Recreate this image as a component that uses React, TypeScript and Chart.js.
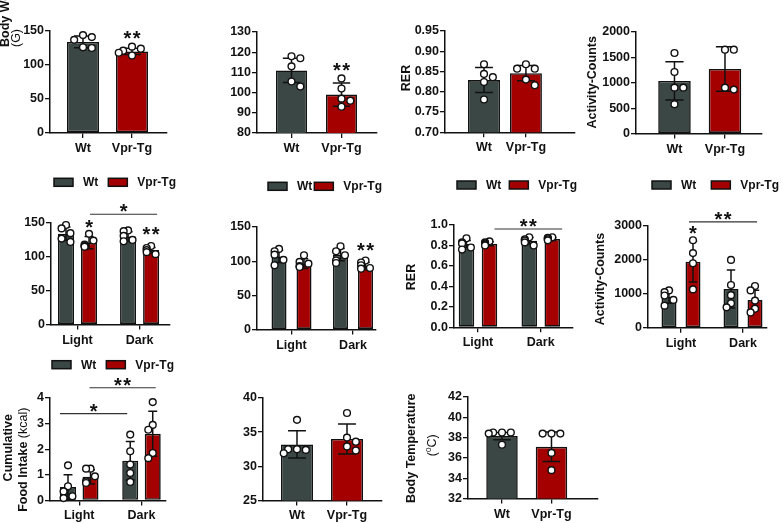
import React, { useEffect, useRef } from "react";
import { Chart, registerables } from "chart.js";

Chart.register(...registerables);

const WT_COLOR = "#3b4745";
const VPR_COLOR = "#a50000";
const INK = "#111111";
const FONT = "'Liberation Sans', Arial, Helvetica, sans-serif";

// ---------- labels ----------
const groupLabels = ["Wt", "Vpr-Tg"];
const phaseLabels = ["Light", "Dark"];
const legendNames = ["Wt", "Vpr-Tg"];

// ---------- A: body weight ----------
const weightMean = [134, 120];
const weightSd = [8.5, 4.5];
const weightPoints = [[144, 141, 137, 126, 125], [127, 124, 121, 118, 114]];

// ---------- B ----------
const bMean = [111, 99];
const bSd = [6, 5.8];
const bPoints = [[118, 117, 113, 105.5, 103], [107, 102, 97, 96, 93]];

// ---------- C: RER ----------
const rerMean = [0.829, 0.846];
const rerSd = [0.031, 0.019];
const rerPoints = [[0.868, 0.844, 0.836, 0.824, 0.781], [0.868, 0.857, 0.857, 0.83, 0.816]];

// ---------- D: activity ----------
const actMean = [1036, 1272];
const actSd = [377, 440];
const actPoints = [[1587, 1213, 905, 905, 577], [1652, 1652, 905, 866]];

// ---------- E: light/dark ----------
const eWtMean = [134, 130];
const eWtSd = [10, 7];
const eWtPoints = [[147, 142, 135, 127, 122], [139, 138, 131, 125, 123]];
const eVprMean = [121, 110];
const eVprSd = [9, 4];
const eVprPoints = [[134, 124, 118, 116, 115], [116, 113, 110, 107, 104]];

// ---------- F: light/dark ----------
const fWtMean = [107, 109.5];
const fWtSd = [9, 9];
const fWtPoints = [[118, 114.5, 109.6, 102, 94], [121.8, 114.5, 108.6, 101, 97.4]];
const fVprMean = [96.5, 93];
const fVprSd = [7, 5];
const fVprPoints = [[108.6, 99, 96.4, 93, 91.6], [101, 98, 94, 90, 89]];

// ---------- G: RER light/dark ----------
const gWtMean = [0.814, 0.847];
const gWtSd = [0.035, 0.03];
const gWtPoints = [[0.87, 0.83, 0.82, 0.78, 0.76], [0.88, 0.86, 0.85, 0.83, 0.8]];
const gVprMean = [0.816, 0.863];
const gVprSd = [0.02, 0.015];
const gVprPoints = [[0.84, 0.83, 0.82, 0.81, 0.8], [0.88, 0.875, 0.87, 0.86, 0.85]];

// ---------- H: activity light/dark ----------
const hWtMean = [914, 1140];
const hWtSd = [190, 560];
const hWtPoints = [[1100, 1050, 950, 820, 650], [2000, 1260, 960, 720, 600]];
const hVprMean = [1947, 816];
const hVprSd = [600, 290];
const hVprPoints = [[2580, 2200, 1900, 1130], [1230, 1100, 800, 560, 450]];

// ---------- I: food intake ----------
const iWtMean = [0.52, 1.55];
const iWtSd = [0.48, 0.75];
const iWtPoints = [[1.37, 0.55, 0.35, 0.16, 0.09], [2.57, 1.92, 1.4, 1.07, 0.72]];
const iVprMean = [0.92, 2.6];
const iVprSd = [0.28, 0.88];
const iVprPoints = [[1.24, 1.24, 0.94, 0.74, 0.68], [3.84, 2.95, 2.76, 1.85, 1.65]];

// ---------- J ----------
const jMean = [33.2, 34.0];
const jSd = [2.0, 2.2];
const jPoints = [[36.8, 32.5, 32.4, 32.5, 31.9], [37.8, 34.2, 33.6, 32.9, 32.3]];

// ---------- K: body temperature ----------
const tempMean = [38.15, 37.1];
const tempSd = [0.35, 1.45];
const tempPoints = [[38.5, 38.5, 38.5, 38.4, 37.3], [38.4, 38.4, 38.4, 36.5, 34.8]];

// ---------- types ----------
type Part = { t: string; bold?: boolean; sup?: boolean };
type Title = { parts: Part[]; x: number; y: number; align?: "start" | "center"; size?: number };
type Star = { ds: number; cat: number; y: number; text: string };
type Bracket = { a: [number, number]; b: [number, number]; y: number; text: string; dxa?: number; dxb?: number };
type Series = { name: string; color: string | string[]; mean: number[]; sd: number[]; pts: number[][] };
type PanelSpec = {
  area: { l: number; t: number; r: number; b: number };
  xMin: number; xMax: number;
  yMin: number; yMax: number; yStep: number; yDec: number;
  labels: string[];
  catPct: number; barPct: number;
  series: Series[];
  stars?: Star[];
  brackets?: Bracket[];
  titles?: Title[];
  legend?: { x: number; y: number; gap2: number };
};

const single = (mean: number[], sd: number[], pts: number[][]): Series[] => [
  { name: "group", color: [WT_COLOR, VPR_COLOR], mean, sd, pts },
];
const grouped = (wm: number[], ws: number[], wp: number[][], vm: number[], vs: number[], vp: number[][]): Series[] => [
  { name: legendNames[0], color: WT_COLOR, mean: wm, sd: ws, pts: wp },
  { name: legendNames[1], color: VPR_COLOR, mean: vm, sd: vs, pts: vp },
];

const panels: PanelSpec[] = [
  {
    area: { l: 50, t: 31, r: 167, b: 133 }, xMin: -0.673, xMax: 1.714,
    yMin: 0, yMax: 150, yStep: 50, yDec: 0, labels: groupLabels, catPct: 1, barPct: 0.653,
    series: single(weightMean, weightSd, weightPoints),
    stars: [{ ds: 0, cat: 1, y: 147, text: "**" }],
    titles: [
      { parts: [{ t: "Body Weight", bold: true }], x: 6, y: 47, align: "start" },
      { parts: [{ t: "(G)" }], x: 17, y: 38 },
    ],
  },
  {
    area: { l: 257, t: 32, r: 377, b: 133 }, xMin: -0.69, xMax: 1.71,
    yMin: 80, yMax: 130, yStep: 10, yDec: 0, labels: groupLabels, catPct: 1, barPct: 0.62,
    series: single(bMean, bSd, bPoints),
    stars: [{ ds: 0, cat: 1, y: 113.7, text: "**" }],
  },
  {
    area: { l: 445, t: 31, r: 575, b: 132.3 }, xMin: -0.93, xMax: 2.17,
    yMin: 0.7, yMax: 0.95, yStep: 0.05, yDec: 2, labels: groupLabels, catPct: 1, barPct: 0.762,
    series: single(rerMean, rerSd, rerPoints),
    titles: [{ parts: [{ t: "RER", bold: true }], x: 407, y: 78 }],
  },
  {
    area: { l: 636, t: 31.7, r: 762, b: 133.3 }, xMin: -0.762, xMax: 1.733,
    yMin: 0, yMax: 2000, yStep: 500, yDec: 0, labels: groupLabels, catPct: 1, barPct: 0.644,
    series: single(actMean, actSd, actPoints),
    titles: [{ parts: [{ t: "Activity-Counts", bold: true }], x: 593, y: 82 }],
  },
  {
    area: { l: 51, t: 222.7, r: 170, b: 324.3 }, xMin: -0.427, xMax: 1.49,
    yMin: 0, yMax: 150, yStep: 50, yDec: 0, labels: phaseLabels, catPct: 0.742, barPct: 0.696,
    series: grouped(eWtMean, eWtSd, eWtPoints, eVprMean, eVprSd, eVprPoints),
    stars: [{ ds: 1, cat: 0, y: 151.5, text: "*" }, { ds: 1, cat: 1, y: 140.8, text: "**" }],
    brackets: [{ a: [1, 0], b: [1, 1], y: 163, text: "*", dxa: 1, dxb: 6 }],
    legend: { x: 54, y: 182, gap2: 10 },
  },
  {
    area: { l: 257, t: 226.7, r: 376, b: 329.3 }, xMin: -0.561, xMax: 1.374,
    yMin: 0, yMax: 150, yStep: 50, yDec: 0, labels: phaseLabels, catPct: 0.813, barPct: 0.6,
    series: grouped(fWtMean, fWtSd, fWtPoints, fVprMean, fVprSd, fVprPoints),
    stars: [{ ds: 1, cat: 1, y: 123, text: "**" }],
    legend: { x: 268, y: 186, gap2: 2 },
  },
  {
    area: { l: 454, t: 225, r: 573, b: 327.3 }, xMin: -0.382, xMax: 1.514,
    yMin: 0, yMax: 1.0, yStep: 0.2, yDec: 1, labels: phaseLabels, catPct: 0.733, barPct: 0.674,
    series: grouped(gWtMean, gWtSd, gWtPoints, gVprMean, gVprSd, gVprPoints),
    brackets: [{ a: [1, 0], b: [1, 1], y: 0.961, text: "**", dxa: 5, dxb: 10 }],
    titles: [{ parts: [{ t: "RER", bold: true }], x: 412, y: 277 }],
    legend: { x: 457, y: 185, gap2: 8 },
  },
  {
    area: { l: 648, t: 226, r: 767, b: 327.7 }, xMin: -0.532, xMax: 1.387,
    yMin: 0, yMax: 3000, yStep: 1000, yDec: 0, labels: phaseLabels, catPct: 0.774, barPct: 0.625,
    series: grouped(hWtMean, hWtSd, hWtPoints, hVprMean, hVprSd, hVprPoints),
    stars: [{ ds: 1, cat: 0, y: 2953, text: "*" }],
    brackets: [{ a: [1, 0], b: [1, 1], y: 3121, text: "**", dxa: -4, dxb: 2 }],
    titles: [{ parts: [{ t: "Activity-Counts", bold: true }], x: 601, y: 279 }],
    legend: { x: 652, y: 185, gap2: 15 },
  },
  {
    area: { l: 50, t: 398.3, r: 166, b: 500.7 }, xMin: -0.47, xMax: 1.394,
    yMin: 0, yMax: 4, yStep: 1, yDec: 0, labels: phaseLabels, catPct: 0.723, barPct: 0.711,
    series: grouped(iWtMean, iWtSd, iWtPoints, iVprMean, iVprSd, iVprPoints),
    brackets: [
      { a: [0, 0], b: [0, 1], y: 3.39, text: "*", dxa: -8, dxb: -3 },
      { a: [1, 0], b: [1, 1], y: 4.4, text: "**", dxa: -1, dxb: 3 },
    ],
    titles: [
      { parts: [{ t: "Cumulative", bold: true }], x: 9, y: 448 },
      { parts: [{ t: "Food Intake ", bold: true }, { t: "(kcal)" }], x: 24, y: 460 },
    ],
    legend: { x: 52, y: 365, gap2: 10 },
  },
  {
    area: { l: 263, t: 398.3, r: 382, b: 500.7 }, xMin: -0.68, xMax: 1.7,
    yMin: 25, yMax: 40, yStep: 5, yDec: 0, labels: groupLabels, catPct: 1, barPct: 0.64,
    series: single(jMean, jSd, jPoints),
  },
  {
    area: { l: 468, t: 396.7, r: 598, b: 498.3 }, xMin: -0.687, xMax: 1.94,
    yMin: 32, yMax: 42, yStep: 2, yDec: 0, labels: groupLabels, catPct: 1, barPct: 0.636,
    series: single(tempMean, tempSd, tempPoints),
    titles: [
      { parts: [{ t: "Body Temperature", bold: true }], x: 412, y: 448 },
      { parts: [{ t: "(" }, { t: "0", sup: true }, { t: "C)" }], x: 433, y: 445 },
    ],
  },
];

// ---------- layout constants ----------
const LEFT = 64;
const TOP = 52;
const RIGHT = 22;
const BOTTOM = 30;
const YW = 40;
const XH = 27;
const TICK_FONT = { family: FONT, size: 12.5, weight: "bold" as const };

function font(size: number, bold: boolean) {
  return `${bold ? "bold " : ""}${size}px ${FONT}`;
}

function drawStars(ctx: CanvasRenderingContext2D, text: string, x: number, y: number) {
  const fs = 20;
  const n = text.length;
  const sp = fs * 0.46;
  ctx.font = font(fs, true);
  ctx.textAlign = "center";
  ctx.textBaseline = "alphabetic";
  ctx.fillStyle = INK;
  for (let k = 0; k < n; k++) {
    const sx = x + (k - (n - 1) / 2) * sp;
    ctx.fillText("*", sx, y + fs * 0.6);
  }
}

function drawOverlay(chart: any, spec: PanelSpec, ox: number, oy: number) {
  const ctx: CanvasRenderingContext2D = chart.ctx;
  const ys = chart.scales.y;
  const bars: { x: number; w: number }[][] = spec.series.map((_, d) =>
    chart.getDatasetMeta(d).data.map((el: any) => ({ x: el.x, w: el.width }))
  );
  ctx.save();
  // error bars
  spec.series.forEach((s, d) => {
    s.mean.forEach((m, i) => {
      const b = bars[d][i];
      if (!b) return;
      const yt = ys.getPixelForValue(m + s.sd[i]);
      const yb = ys.getPixelForValue(m - s.sd[i]);
      const cw = b.w * 0.28;
      ctx.strokeStyle = INK;
      ctx.lineWidth = 1.5;
      ctx.beginPath();
      ctx.moveTo(b.x, yt);
      ctx.lineTo(b.x, yb);
      ctx.moveTo(b.x - cw, yt);
      ctx.lineTo(b.x + cw, yt);
      ctx.moveTo(b.x - cw, yb);
      ctx.lineTo(b.x + cw, yb);
      ctx.stroke();
    });
  });
  // points (simple beeswarm)
  const r = 3.4;
  spec.series.forEach((s, d) => {
    s.pts.forEach((vals, i) => {
      const b = bars[d][i];
      if (!b) return;
      const placed: { x: number; y: number }[] = [];
      const dmin = 2 * r + 1.2;
      const step = r * 1.3;
      const maxOff = b.w / 2;
      vals.forEach((v) => {
        const py = ys.getPixelForValue(v);
        let best = b.x;
        for (let k = 0; k < 12; k++) {
          const off = k === 0 ? 0 : (k % 2 === 1 ? 1 : -1) * Math.ceil(k / 2) * step;
          if (Math.abs(off) > maxOff) continue;
          const px = b.x + off;
          const ok = placed.every((p) => Math.hypot(p.x - px, p.y - py) >= dmin);
          if (ok) { best = px; break; }
          best = px;
        }
        placed.push({ x: best, y: py });
      });
      placed.forEach((p) => {
        ctx.beginPath();
        ctx.arc(p.x, p.y, r, 0, Math.PI * 2);
        ctx.fillStyle = "#ffffff";
        ctx.fill();
        ctx.lineWidth = 1.4;
        ctx.strokeStyle = INK;
        ctx.stroke();
      });
    });
  });
  // stars
  (spec.stars || []).forEach((st) => {
    const b = bars[st.ds][st.cat];
    drawStars(ctx, st.text, b.x, ys.getPixelForValue(st.y));
  });
  // brackets
  (spec.brackets || []).forEach((br) => {
    const ba = bars[br.a[0]][br.a[1]];
    const bb = bars[br.b[0]][br.b[1]];
    const x1 = ba.x + (br.dxa || 0);
    const x2 = bb.x + (br.dxb || 0);
    const y = ys.getPixelForValue(br.y);
    ctx.strokeStyle = "#333";
    ctx.lineWidth = 1.1;
    ctx.beginPath();
    ctx.moveTo(x1, y);
    ctx.lineTo(x2, y);
    ctx.stroke();
    drawStars(ctx, br.text, (x1 + x2) / 2, y - 8);
  });
  // titles (rotated)
  (spec.titles || []).forEach((tt) => {
    const size = tt.size || 12.5;
    ctx.save();
    ctx.translate(tt.x - ox, tt.y - oy);
    ctx.rotate(-Math.PI / 2);
    ctx.textBaseline = "middle";
    ctx.textAlign = "left";
    ctx.fillStyle = INK;
    const widths = tt.parts.map((p) => {
      ctx.font = font(p.sup ? size * 0.65 : size, !!p.bold);
      return ctx.measureText(p.t).width;
    });
    const total = widths.reduce((a, c) => a + c, 0);
    let cx = tt.align === "start" ? 0 : -total / 2;
    tt.parts.forEach((p, k) => {
      ctx.font = font(p.sup ? size * 0.65 : size, !!p.bold);
      ctx.fillText(p.t, cx, p.sup ? -size * 0.35 : 0);
      cx += widths[k];
    });
    ctx.restore();
  });
  // legend
  if (spec.legend) {
    const lg = spec.legend;
    let x = lg.x - ox;
    const y = lg.y - oy;
    const bw = 19, bh = 8;
    ctx.font = font(12, true);
    ctx.textBaseline = "middle";
    ctx.textAlign = "left";
    spec.series.forEach((s, d) => {
      ctx.fillStyle = s.color as string;
      ctx.fillRect(x, y - bh / 2, bw, bh);
      ctx.strokeStyle = INK;
      ctx.lineWidth = 1.5;
      ctx.strokeRect(x, y - bh / 2, bw, bh);
      x += bw + 10;
      ctx.fillStyle = INK;
      ctx.fillText(s.name, x, y + 0.5);
      x += ctx.measureText(s.name).width + (d === 0 ? lg.gap2 : 0);
    });
  }
  ctx.restore();
}

function Panel({ spec }: { spec: PanelSpec }) {
  const ref = useRef<HTMLCanvasElement | null>(null);
  const { area } = spec;
  const ox = area.l - LEFT;
  const oy = area.t - TOP;
  const w = Math.round(area.r - area.l + LEFT + RIGHT);
  const h = Math.round(area.b - area.t + TOP + BOTTOM);

  useEffect(() => {
    const canvas = ref.current;
    if (!canvas) return;
    const overlay = {
      id: "overlay",
      afterDatasetsDraw(chart: any) {
        drawOverlay(chart, spec, ox, oy);
      },
    };
    let pad = { left: LEFT - YW, top: TOP, right: RIGHT, bottom: BOTTOM - XH };
    const axisGrid = {
      display: true,
      drawOnChartArea: false,
      drawTicks: true,
      tickLength: 5,
      offset: false,
      color: INK,
      lineWidth: 1.3,
    };
    const axisBorder = { display: true, color: INK, width: 1.5 };
    const chart = new Chart(canvas, {
      type: "bar",
      data: {
        datasets: spec.series.map((s) => ({
          label: s.name,
          data: s.mean.map((v, i) => ({ x: i, y: v })),
          backgroundColor: s.color,
          borderColor: INK,
          borderWidth: 1.6,
          borderSkipped: false,
          categoryPercentage: spec.catPct,
          barPercentage: spec.barPct,
        })) as any,
      },
      options: {
        responsive: false,
        animation: false,
        events: [],
        layout: { padding: pad },
        plugins: { legend: { display: false }, tooltip: { enabled: false } },
        scales: {
          x: {
            type: "linear",
            offset: false,
            min: spec.xMin,
            max: spec.xMax,
            afterBuildTicks: (s: any) => {
              s.ticks = spec.labels.map((_, i) => ({ value: i }));
            },
            afterFit: (s: any) => {
              s.height = XH;
            },
            ticks: {
              autoSkip: false,
              maxRotation: 0,
              padding: 3,
              color: INK,
              font: TICK_FONT,
              callback: (v: any) => spec.labels[Math.round(Number(v))] ?? "",
            },
            grid: axisGrid,
            border: axisBorder,
          },
          y: {
            type: "linear",
            min: spec.yMin,
            max: spec.yMax,
            afterFit: (s: any) => {
              s.width = YW;
            },
            ticks: {
              stepSize: spec.yStep,
              padding: 1,
              color: INK,
              font: TICK_FONT,
              callback: (v: any) => Number(v).toFixed(spec.yDec),
            },
            grid: axisGrid,
            border: axisBorder,
          },
        },
      } as any,
      plugins: [overlay],
    });
    for (let k = 0; k < 3; k++) {
      const ca = chart.chartArea;
      pad = {
        left: pad.left + (area.l - ox) - ca.left,
        top: pad.top + (area.t - oy) - ca.top,
        right: pad.right + ca.right - (area.r - ox),
        bottom: pad.bottom + ca.bottom - (area.b - oy),
      };
      (chart.options as any).layout = { padding: pad };
      chart.update();
    }
    return () => chart.destroy();
  }, []);

  return (
    <canvas
      ref={ref}
      width={w}
      height={h}
      style={{ position: "absolute", left: ox, top: oy, width: w, height: h }}
    />
  );
}

export default function App() {
  return (
    <div
      style={{
        position: "absolute",
        left: 0,
        top: 0,
        width: 782,
        height: 523,
        overflow: "hidden",
        background: "#ffffff",
      }}
    >
      {panels.map((p, i) => (
        <Panel key={i} spec={p} />
      ))}
    </div>
  );
}
